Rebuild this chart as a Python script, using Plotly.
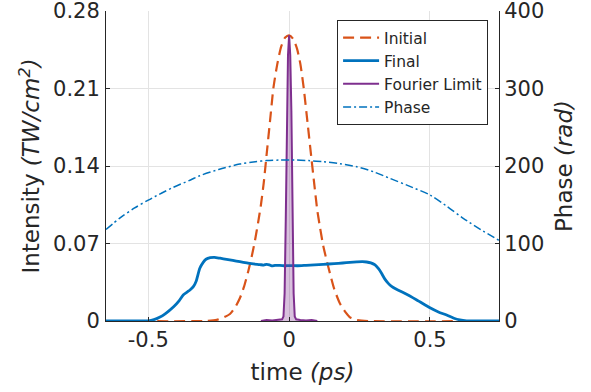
import plotly.graph_objects as go

# ---- data ----
t_initial = [-0.65, -0.30, -0.257, -0.235, -0.21, -0.19, -0.175, -0.16, -0.145, -0.133, -0.121,
             -0.11, -0.10, -0.09, -0.08, -0.068, -0.056, -0.042, -0.028, -0.014, 0.0,
             0.014, 0.028, 0.04, 0.052, 0.065, 0.08, 0.09, 0.10, 0.11, 0.121, 0.133,
             0.145, 0.16, 0.18, 0.20, 0.216, 0.24, 0.28, 0.745]
i_initial = [0, 0, 0.001, 0.003, 0.0063, 0.013, 0.0205, 0.031, 0.045, 0.058, 0.073,
             0.089, 0.105, 0.125, 0.150, 0.180, 0.210, 0.232, 0.248, 0.256, 0.258,
             0.255, 0.246, 0.232, 0.210, 0.180, 0.145, 0.122, 0.100, 0.084, 0.068, 0.055,
             0.043, 0.029, 0.016, 0.008, 0.0033, 0.001, 0, 0]

t_final = [-0.65, -0.55, -0.50, -0.48, -0.46, -0.44, -0.41, -0.39, -0.376, -0.36, -0.352,
           -0.34, -0.33, -0.317, -0.305, -0.295, -0.28, -0.265, -0.245, -0.222, -0.20,
           -0.175, -0.15, -0.127, -0.105, -0.09, -0.08, -0.07, -0.062, -0.05, -0.033,
           -0.015, 0.003, 0.03, 0.06, 0.09, 0.121, 0.16, 0.19, 0.216, 0.24, 0.26, 0.275,
           0.29, 0.305, 0.318, 0.328, 0.34, 0.352, 0.365, 0.381, 0.41, 0.453, 0.50, 0.53,
           0.559, 0.585, 0.606, 0.63, 0.66, 0.745]
i_final = [0, 0, 0.0002, 0.0012, 0.0033, 0.0065, 0.0129, 0.0185, 0.0235, 0.0265, 0.028,
           0.031, 0.036, 0.0476, 0.053, 0.0558, 0.0572, 0.0575, 0.0567, 0.0557, 0.0547,
           0.0536, 0.0525, 0.0515, 0.051, 0.0505, 0.0512, 0.0507, 0.0498, 0.0502, 0.0503,
           0.0499, 0.050, 0.0499, 0.0503, 0.0507, 0.0512, 0.0518, 0.0524, 0.053, 0.0534, 0.0536, 0.0533,
           0.0525, 0.0506, 0.047, 0.0431, 0.0378, 0.034, 0.031, 0.0286, 0.025, 0.019, 0.012, 0.0082,
           0.0054, 0.0025, 0.001, 0.0002, 0, 0]

t_fourier = [-0.10, -0.08, -0.06, -0.04, -0.025, -0.02, -0.016, -0.012, -0.008, -0.004, 0.0,
             0.004, 0.008, 0.012, 0.016, 0.02, 0.025, 0.04, 0.06, 0.08, 0.10]
i_fourier = [0, 0.001, 0.0005, 0.001, 0.0015, 0.004, 0.025, 0.09, 0.19, 0.24, 0.258,
             0.24, 0.19, 0.09, 0.025, 0.004, 0.0015, 0.001, 0.0005, 0.001, 0]

t_phase = [-0.65, -0.60, -0.55, -0.50, -0.45, -0.411, -0.35, -0.317, -0.25, -0.175, -0.12,
           -0.08, -0.03, 0.027, 0.07, 0.121, 0.18, 0.24, 0.30, 0.358, 0.42, 0.50, 0.56,
           0.618, 0.68, 0.745]
phase = [118, 133, 145.5, 156, 165.5, 172.5, 182, 187.5, 195.5, 202.5, 205.5,
         207, 207.7, 207.7, 207, 205.5, 203, 199, 192.5, 184, 175, 162.6, 148,
         132.5, 118, 104]

y_ticks = [0, 0.07, 0.14, 0.21, 0.28]
y_ticklabels = ["0", "0.07", "0.14", "0.21", "0.28"]
y2_ticks = [0, 100, 200, 300, 400]
y2_ticklabels = ["0", "100", "200", "300", "400"]
x_ticks = [-0.5, 0, 0.5]
x_ticklabels = ["-0.5", "0", "0.5"]

C_INIT = "#D95319"
C_FINAL = "#0072BD"
C_FOUR = "#7E2F8E"
TXT = "#262626"
GRID = "#E3E3E3"
FONT = "DejaVu Sans"
TICK = 21
TITLE = 23

fig = go.Figure()
fig.add_trace(go.Scatter(x=t_initial, y=i_initial, name="Initial", mode="lines",
                         line=dict(color=C_INIT, width=2.2, dash="11px,6px", shape="spline", smoothing=0.6)))
fig.add_trace(go.Scatter(x=t_final, y=i_final, name="Final", mode="lines",
                         line=dict(color=C_FINAL, width=2.8, shape="spline", smoothing=0.6)))
fig.add_trace(go.Scatter(x=t_fourier, y=i_fourier, mode="lines", fill="tozeroy",
                         fillcolor="rgba(126,47,142,0.3)", line=dict(color=C_FOUR, width=2),
                         showlegend=False, hoverinfo="skip"))
fig.add_trace(go.Scatter(x=[None], y=[None], name="Fourier Limit", mode="lines",
                         line=dict(color=C_FOUR, width=2)))
fig.add_trace(go.Scatter(x=t_phase, y=phase, name="Phase", mode="lines", yaxis="y2",
                         line=dict(color=C_FINAL, width=1.5, dash="8px,3px,2px,3px", shape="spline", smoothing=0.8)))

fig.update_layout(
    width=591, height=392,
    margin=dict(l=106, r=92, t=11, b=71),
    paper_bgcolor="white", plot_bgcolor="white",
    font=dict(family=FONT, color=TXT, size=TICK),
    xaxis=dict(range=[-0.65, 0.745], tickvals=x_ticks, ticktext=x_ticklabels, automargin=False,
               showgrid=True, gridcolor=GRID, gridwidth=1, zeroline=False,
               showline=True, linecolor=TXT, linewidth=1, ticks="inside", ticklen=4,
               tickcolor=TXT, tickfont=dict(size=TICK, color=TXT), ticklabeloverflow="allow",
               title=dict(text="time <i>(ps)</i>", font=dict(size=TITLE, color=TXT), standoff=12)),
    yaxis=dict(range=[0, 0.28001], tickvals=y_ticks, ticktext=y_ticklabels, automargin=False,
               showgrid=True, gridcolor=GRID, gridwidth=1, zeroline=False,
               showline=True, linecolor=TXT, linewidth=1, ticks="inside", ticklen=4,
               tickcolor=TXT, tickfont=dict(size=TICK, color=TXT), ticklabeloverflow="allow",
               ticklabelstandoff=1,
               title=dict(text="Intensity <i>(TW/cm<sup>2</sup>)</i>", font=dict(size=TITLE, color=TXT), standoff=6)),
    yaxis2=dict(range=[0, 400.004], tickvals=y2_ticks, ticktext=y2_ticklabels, overlaying="y", side="right",
                automargin=False,
                showgrid=False, zeroline=False, showline=True, linecolor=TXT, linewidth=1,
                ticks="inside", ticklen=4, tickcolor=TXT, tickfont=dict(size=TICK, color=TXT),
                ticklabeloverflow="allow",
                title=dict(text="Phase <i>(rad)</i>", font=dict(size=TITLE, color=TXT), standoff=12)),
    legend=dict(x=0.588, y=0.971, xanchor="left", yanchor="top",
                bgcolor="white", bordercolor=TXT, borderwidth=1,
                font=dict(size=15.5, color=TXT, family=FONT), itemwidth=36,
                tracegroupgap=0),
    showlegend=True,
)

fig.write_html("out.html", config={"displayModeBar": False},
               post_script="document.body.style.margin='0px';")
